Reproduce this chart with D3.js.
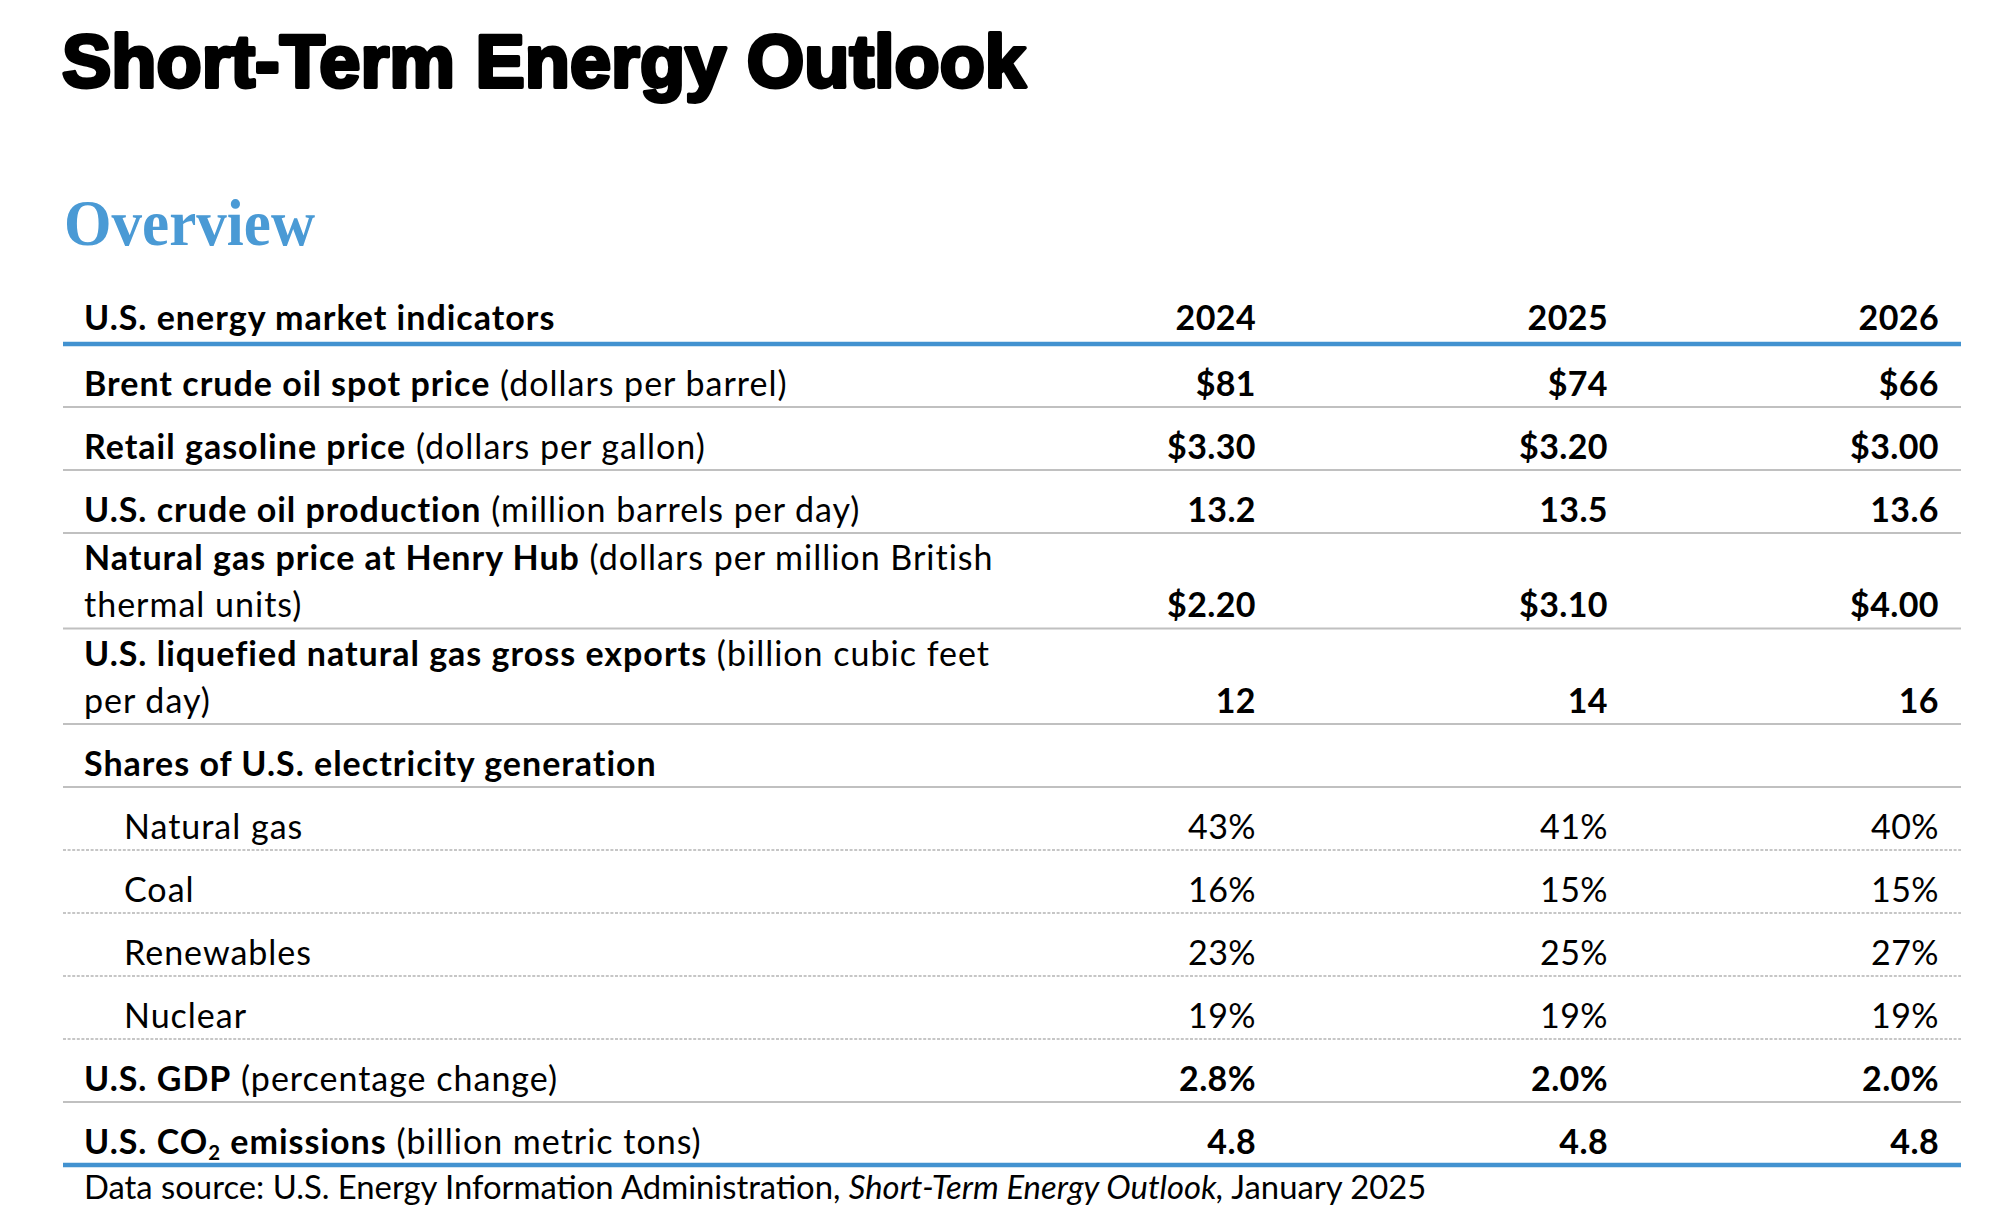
<!DOCTYPE html>
<html>
<head>
<meta charset="utf-8">
<script src="https://cdn.jsdelivr.net/npm/d3@7"></script>
<style>
  html, body { margin: 0; padding: 0; background: #fff; }
  svg { display: block; }
</style>
</head>
<body>
<svg id="chart" width="2000" height="1228"></svg>
<script>
// ---------------- DATA ----------------
const title = "Short-Term Energy Outlook";
const subtitle = "Overview";
const headerLabel = "U.S. energy market indicators";
const years = ["2024", "2025", "2026"];

const brentPrice = [81, 74, 66];
const gasolinePrice = [3.30, 3.20, 3.00];
const crudeProduction = [13.2, 13.5, 13.6];
const henryHubPrice = [2.20, 3.10, 4.00];
const lngExports = [12, 14, 16];
const shareNaturalGas = [43, 41, 40];
const shareCoal = [16, 15, 15];
const shareRenewables = [23, 25, 27];
const shareNuclear = [19, 19, 19];
const gdpGrowth = [2.8, 2.0, 2.0];
const co2Emissions = [4.8, 4.8, 4.8];

const footerParts = ["Data source: U.S. Energy Information Administration, ", "Short-Term Energy Outlook,", " January 2025"];

// ---------------- FORMATS ----------------
const fDollar0 = v => "$" + d3.format(".0f")(v);
const fDollar2 = v => "$" + d3.format(".2f")(v);
const f1 = d3.format(".1f");
const f0 = d3.format(".0f");
const fPct0 = v => d3.format(".0f")(v) + "%";
const fPct1 = v => d3.format(".1f")(v) + "%";

// rows: label lines are arrays of [text, style] segments
const rows = [
  { lines: [[["Brent crude oil spot price", "b"], [" (dollars per barrel)", "r"]]], values: brentPrice, fmt: fDollar0, kind: "main" },
  { lines: [[["Retail gasoline price", "b"], [" (dollars per gallon)", "r"]]], values: gasolinePrice, fmt: fDollar2, kind: "main" },
  { lines: [[["U.S. crude oil production", "b"], [" (million barrels per day)", "r"]]], values: crudeProduction, fmt: f1, kind: "main" },
  { lines: [[["Natural gas price at Henry Hub", "b"], [" (dollars per million British", "r"]], [["thermal units)", "r"]]], values: henryHubPrice, fmt: fDollar2, kind: "main" },
  { lines: [[["U.S. liquefied natural gas gross exports", "b"], [" (billion cubic feet", "r"]], [["per day)", "r"]]], values: lngExports, fmt: f0, kind: "main" },
  { lines: [[["Shares of U.S. electricity generation", "b"]]], values: null, fmt: null, kind: "section" },
  { lines: [[["Natural gas", "r"]]], values: shareNaturalGas, fmt: fPct0, kind: "sub" },
  { lines: [[["Coal", "r"]]], values: shareCoal, fmt: fPct0, kind: "sub" },
  { lines: [[["Renewables", "r"]]], values: shareRenewables, fmt: fPct0, kind: "sub" },
  { lines: [[["Nuclear", "r"]]], values: shareNuclear, fmt: fPct0, kind: "sub" },
  { lines: [[["U.S. GDP", "b"], [" (percentage change)", "r"]]], values: gdpGrowth, fmt: fPct1, kind: "main" },
  { lines: [[["U.S. CO", "b"], ["2", "bsub"], [" emissions", "b"], [" (billion metric tons)", "r"]]], values: co2Emissions, fmt: f1, kind: "last" }
];

// ---------------- LAYOUT ----------------
const svg = d3.select("#chart");
const FONT = "Lato, 'Open Sans', sans-serif";
const FS = 34;
const LS = 1.0;
const BLUE = "#4292d0";
const tableLeft = 63, tableRight = 1961, textLeft = 84, indentLeft = 124;
const headerRule = 344;
const rowUnit = 63, extraLine = 32.5, lineGap = 47, baseOffset = 11.5;

const xCol = d3.scaleOrdinal().domain(years).range([1256, 1608, 1939]);

// cumulative row positions
let acc = headerRule;
rows.forEach(r => {
  r.top = acc;
  r.bottom = acc + rowUnit + (r.lines.length - 1) * extraLine;
  acc = r.bottom;
});
const yRow = d3.scaleOrdinal().domain(d3.range(rows.length)).range(rows.map(r => r.bottom));

// Title
svg.append("text")
  .attr("x", 62).attr("y", 87)
  .attr("font-family", "'Liberation Sans', Arial, sans-serif")
  .attr("font-weight", 900).attr("font-size", 74)
  .attr("fill", "#000").attr("stroke", "#000").attr("stroke-width", 3.8)
  .attr("stroke-linejoin", "round")
  .attr("textLength", 964).attr("lengthAdjust", "spacingAndGlyphs")
  .text(title);

// Subtitle
svg.append("text")
  .attr("x", 64).attr("y", 245)
  .attr("font-family", "'Liberation Serif', 'Times New Roman', serif")
  .attr("font-weight", 700).attr("font-size", 65)
  .attr("fill", "#4a9ad5")
  .attr("textLength", 251).attr("lengthAdjust", "spacingAndGlyphs")
  .text(subtitle);

// Header row
const g = svg.append("g").attr("font-family", FONT).attr("font-size", FS)
  .attr("letter-spacing", LS).attr("fill", "#000");
g.append("text").attr("x", textLeft).attr("y", 330).attr("font-weight", 700).text(headerLabel);
g.selectAll("text.year").data(years).join("text")
  .attr("class", "year")
  .attr("x", d => xCol(d)).attr("y", 330)
  .attr("text-anchor", "end").attr("font-weight", 700)
  .attr("letter-spacing", 0.4)
  .text(d => d);

// header blue rule
svg.append("line")
  .attr("x1", tableLeft).attr("x2", tableRight)
  .attr("y1", headerRule).attr("y2", headerRule)
  .attr("stroke", BLUE).attr("stroke-width", 4.5);

// rows
rows.forEach((r, i) => {
  const bottom = yRow(i);
  const lastBase = bottom - baseOffset;
  const nLines = r.lines.length;
  const x0 = r.kind === "sub" ? indentLeft : textLeft;
  r.lines.forEach((segs, li) => {
    const yb = lastBase - (nLines - 1 - li) * lineGap;
    const t = g.append("text").attr("x", x0).attr("y", yb);
    segs.forEach(([txt, st]) => {
      const ts = t.append("tspan").text(txt)
        .attr("font-weight", st.startsWith("b") ? 700 : 400);
      if (st === "bsub") {
        ts.attr("font-size", FS * 0.6).attr("dy", 6);
      } else if (segs.some(s => s[1] === "bsub") && txt.startsWith(" emissions")) {
        ts.attr("dy", -6);
      }
    });
  });
  if (r.values) {
    g.selectAll(null).data(r.values.map((v, j) => ({ v, year: years[j] }))).join("text")
      .attr("x", d => xCol(d.year)).attr("y", lastBase)
      .attr("text-anchor", "end")
      .attr("letter-spacing", 0.4)
      .attr("font-weight", r.kind === "sub" ? 400 : 700)
      .text(d => r.fmt(d.v));
  }
  // rule under row
  const line = svg.append("line")
    .attr("x1", tableLeft).attr("x2", tableRight)
    .attr("y1", bottom).attr("y2", bottom);
  if (r.kind === "last") {
    line.attr("stroke", BLUE).attr("stroke-width", 4.5);
  } else if (r.kind === "sub") {
    line.attr("stroke", "#b4b4b4").attr("stroke-width", 1.5).attr("stroke-dasharray", "3,1.6");
  } else {
    line.attr("stroke", "#c0c0c0").attr("stroke-width", 2.2);
  }
});

// footer
const ft = g.append("text").attr("x", textLeft).attr("y", 1199).attr("font-size", 32.8).attr("letter-spacing", 0);
ft.append("tspan").text(footerParts[0]);
ft.append("tspan").attr("font-style", "italic").text(footerParts[1]);
ft.append("tspan").text(footerParts[2]);
</script>
</body>
</html>
